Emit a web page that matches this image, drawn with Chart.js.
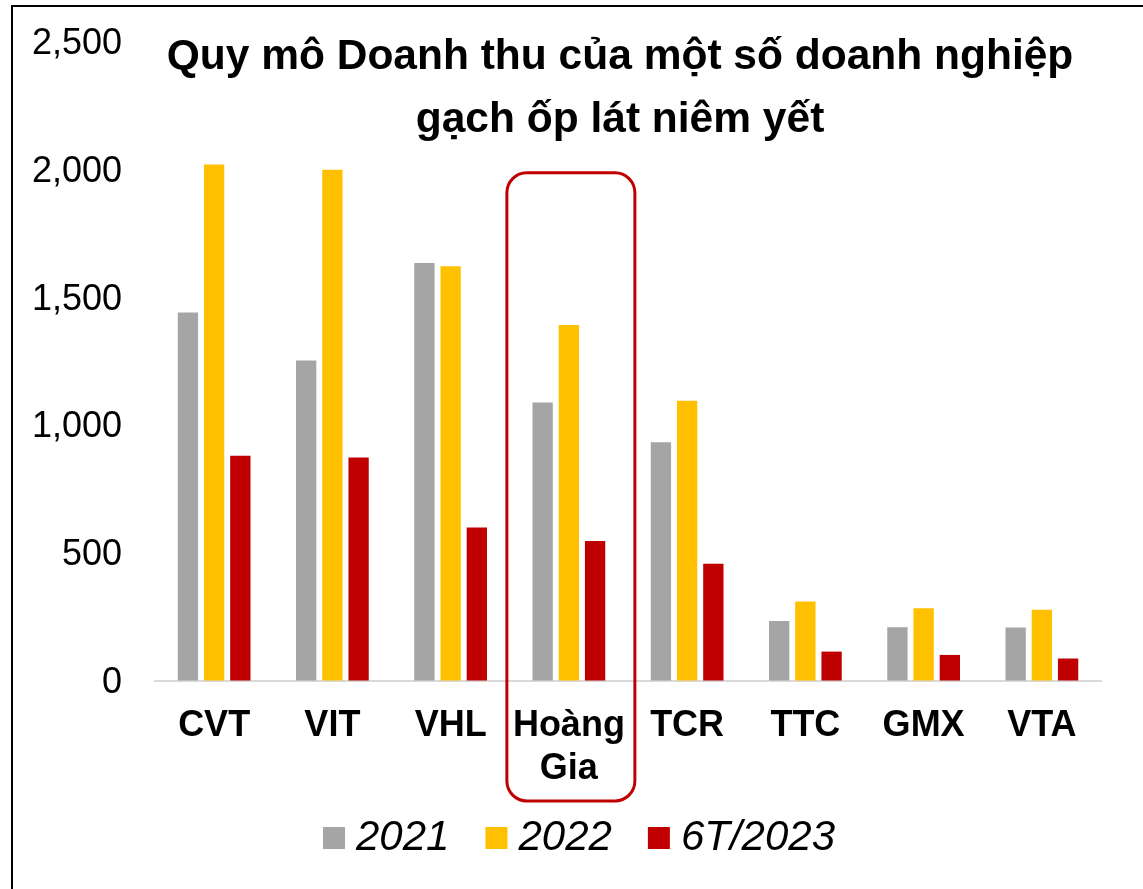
<!DOCTYPE html>
<html>
<head>
<meta charset="utf-8">
<script src="https://cdn.jsdelivr.net/npm/chart.js@4/dist/chart.umd.min.js"></script>
<style>
  html, body { margin: 0; padding: 0; background: #fff; }
  #wrap { position: absolute; left: 0; top: 0; width: 1143px; height: 889px; }
  #frame { position: absolute; left: 11px; top: 5px; width: 1200px; height: 1000px;
           border-left: 2px solid #000; border-top: 2px solid #000; pointer-events: none; }
</style>
</head>
<body>
<div id="wrap"><canvas id="c" width="1143" height="889"></canvas></div>
<div id="frame"></div>
<script>
const categories = ['CVT', 'VIT', 'VHL', ['Hoàng', 'Gia'], 'TCR', 'TTC', 'GMX', 'VTA'];
const seriesNames = ['2021', '2022', '6T/2023'];
const values2021 = [1442, 1254, 1635, 1090, 934, 235, 210, 209];
const values2022 = [2021, 2000, 1623, 1393, 1096, 311, 285, 279];
const values6T2023 = [881, 874, 601, 548, 459, 115, 102, 88];
const yTickValues = [0, 500, 1000, 1500, 2000, 2500];
const titleLines = ['Quy mô Doanh thu của một số doanh nghiệp', 'gạch ốp lát niêm yết'];
const highlightIndex = 3;

const colors = ['#A5A5A5', '#FFC000', '#C00000'];
const FONT = '"Liberation Sans", Arial, sans-serif';

const overlay = {
  id: 'overlay',
  afterDraw(chart) {
    const ctx = chart.ctx;
    const xs = chart.scales.x, ys = chart.scales.y;
    ctx.save();
    // Title
    ctx.fillStyle = '#000';
    ctx.font = 'bold 42.5px ' + FONT;
    ctx.textAlign = 'center';
    ctx.textBaseline = 'alphabetic';
    ctx.fillText(titleLines[0], 620, 69);
    ctx.fillText(titleLines[1], 620, 132);

    // Highlight rounded box
    const cx = xs.getPixelForValue(highlightIndex) + 2;
    const left = cx - 64, right = cx + 64;
    const top = ys.getPixelForValue(2000) + 3;
    const bottom = chart.chartArea.bottom + 120;
    const r = 20;
    ctx.strokeStyle = '#C00000';
    ctx.lineWidth = 3;
    ctx.beginPath();
    ctx.moveTo(left + r, top);
    ctx.lineTo(right - r, top);
    ctx.arcTo(right, top, right, top + r, r);
    ctx.lineTo(right, bottom - r);
    ctx.arcTo(right, bottom, right - r, bottom, r);
    ctx.lineTo(left + r, bottom);
    ctx.arcTo(left, bottom, left, bottom - r, r);
    ctx.lineTo(left, top + r);
    ctx.arcTo(left, top, left + r, top, r);
    ctx.closePath();
    ctx.stroke();

    // Legend
    ctx.font = 'italic 42px ' + FONT;
    ctx.textAlign = 'left';
    ctx.textBaseline = 'middle';
    const box = 22, gapBT = 11, gapItem = 36;
    const ds = chart.data.datasets;
    let total = 0;
    ds.forEach((d, i) => {
      total += box + gapBT + ctx.measureText(d.label).width + (i < ds.length - 1 ? gapItem : 0);
    });
    let x = 579 - total / 2;
    const yMid = 838;
    ds.forEach((d) => {
      ctx.fillStyle = d.backgroundColor;
      ctx.fillRect(x, yMid - box / 2, box, box);
      x += box + gapBT;
      ctx.fillStyle = '#000';
      ctx.fillText(d.label, x, yMid);
      x += ctx.measureText(d.label).width + gapItem;
    });
    ctx.restore();
  }
};

new Chart(document.getElementById('c'), {
  type: 'bar',
  data: {
    labels: categories,
    datasets: [
      { label: seriesNames[0], data: values2021, backgroundColor: colors[0] },
      { label: seriesNames[1], data: values2022, backgroundColor: colors[1] },
      { label: seriesNames[2], data: values6T2023, backgroundColor: colors[2] }
    ]
  },
  options: {
    responsive: false,
    animation: false,
    devicePixelRatio: 1,
    layout: { padding: { top: 42, left: 0, right: 42, bottom: 108 } },
    datasets: { bar: { categoryPercentage: 0.665, barPercentage: 0.775 } },
    plugins: {
      legend: { display: false },
      title: { display: false },
      tooltip: { enabled: false }
    },
    scales: {
      x: {
        grid: { display: false, drawTicks: false },
        border: { display: true, color: '#D9D9D9', width: 2 },
        ticks: {
          color: '#000',
          font: { family: FONT, size: 36, weight: 'bold', lineHeight: 1.2 },
          padding: 23,
          maxRotation: 0, minRotation: 0, autoSkip: false
        },
        afterFit: (s) => { s.height = 100; }
      },
      y: {
        min: 0, max: 2500,
        grid: { display: true, drawOnChartArea: false, drawTicks: true, tickLength: 23,
                color: 'rgba(0,0,0,0)', tickColor: 'rgba(0,0,0,0)' },
        border: { display: false },
        afterBuildTicks: (s) => { s.ticks = yTickValues.map(v => ({ value: v })); },
        ticks: {
          color: '#000',
          font: { family: FONT, size: 36 },
          padding: 10,
          labelOffset: 2,
          callback: (v) => Number(v).toLocaleString('en-US')
        },
        afterFit: (s) => { s.width = 155; }
      }
    }
  },
  plugins: [overlay]
});
</script>
</body>
</html>
